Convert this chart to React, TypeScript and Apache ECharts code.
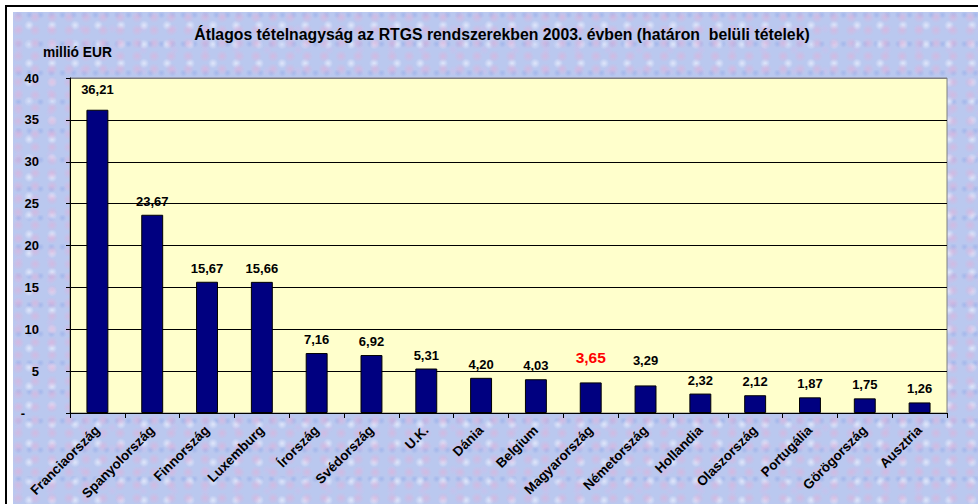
import React, { useEffect, useRef } from "react";
import * as echarts from "echarts";

const categories = [
  "Franciaország", "Spanyolország", "Finnország", "Luxemburg", "Írország", "Svédország",
  "U.K.", "Dánia", "Belgium", "Magyarország", "Németország", "Hollandia",
  "Olaszország", "Portugália", "Görögország", "Ausztria",
];
const values = [36.21, 23.67, 15.67, 15.66, 7.16, 6.92, 5.31, 4.2, 4.03, 3.65, 3.29, 2.32, 2.12, 1.87, 1.75, 1.26];
const highlightCategory = "Magyarország";
const titleText = "Átlagos tételnagyság az RTGS rendszerekben 2003. évben (határon  belüli tételek)";
const unitText = "millió EUR";

const FONT = "'Liberation Sans', Arial, sans-serif";
// labels that were moved up by hand in the original (style only)
const raisedLabelDistance: Record<string, number> = {
  "Franciaország": 14,
  "Magyarország": 17,
  "Németország": 18,
};

export default function App() {
  const ref = useRef<HTMLDivElement>(null);
  useEffect(() => {
    if (!ref.current) return;
    const chart = echarts.init(ref.current, null, { renderer: "svg" });
    const fmt = (v: number) => v.toFixed(2).replace(".", ",");
    chart.setOption({
      animation: false,
      backgroundColor: "transparent",
      textStyle: { fontFamily: FONT },
      graphic: [
        {
          type: "text",
          x: 502,
          y: 34,
          style: {
            text: titleText,
            fontFamily: FONT,
            fontWeight: "bold",
            fontSize: 15.8,
            fill: "#000",
            textAlign: "center",
            textVerticalAlign: "middle",
          },
        },
        {
          type: "text",
          x: 43,
          y: 52,
          style: {
            text: unitText,
            fontFamily: FONT,
            fontWeight: "bold",
            fontSize: 13.8,
            fill: "#000",
            textAlign: "left",
            textVerticalAlign: "middle",
          },
        },
      ],
      grid: {
        left: 70,
        right: 31,
        top: 78,
        bottom: 91,
        show: true,
        backgroundColor: "#FFFFCC",
        borderColor: "#808080",
        borderWidth: 1,
      },
      xAxis: {
        type: "category",
        data: categories,
        axisLine: { show: true, lineStyle: { color: "#000", width: 1 } },
        axisTick: { show: true, length: 5, lineStyle: { color: "#000" } },
        axisLabel: {
          rotate: 45,
          interval: 0,
          margin: 15,
          fontFamily: FONT,
          fontWeight: "bold",
          fontSize: 13.5,
          color: "#000",
        },
      },
      yAxis: {
        type: "value",
        min: 0,
        max: 40,
        interval: 5,
        axisLine: { show: true, lineStyle: { color: "#000", width: 1 } },
        axisTick: { show: true, length: 4, lineStyle: { color: "#000" } },
        splitLine: {
          show: true,
          lineStyle: {
            color: ["#000", "#000", "#000", "#000", "#000", "#000", "#000", "#000", "#808080"],
            width: 1,
          },
        },
        axisLabel: {
          margin: 31,
          fontFamily: FONT,
          fontWeight: "bold",
          fontSize: 13,
          color: "#000",
          formatter: (v: number) => (v === 0 ? "{d|-}" : String(v)),
          rich: { d: { fontWeight: "bold", fontSize: 13, padding: [0, 14, 0, 0], fontFamily: FONT } },
        },
      },
      series: [
        {
          type: "bar",
          barWidth: "40%",
          data: values.map((v, i) => {
            const label: any = {};
            if (categories[i] === highlightCategory) {
              label.color = "#FF0000";
              label.fontSize = 15.5;
            }
            if (raisedLabelDistance[categories[i]] !== undefined) label.distance = raisedLabelDistance[categories[i]];
            return Object.keys(label).length ? { value: v, label } : v;
          }),
          itemStyle: { color: "#000080", borderColor: "#000", borderWidth: 1 },
          label: {
            show: true,
            position: "top",
            distance: 7,
            fontFamily: FONT,
            fontWeight: "bold",
            fontSize: 13,
            color: "#000",
            formatter: (p: any) => fmt(p.value),
          },
        },
      ],
    });
    return () => chart.dispose();
  }, []);

  return (
    <div style={{ position: "fixed", left: 0, top: 0, width: 978, height: 504, background: "#fff", overflow: "hidden" }}>
      <div
        style={{
          position: "absolute",
          left: 5,
          top: 5,
          width: 1000,
          height: 600,
          borderLeft: "2px solid #000",
          borderTop: "2px solid #000",
        }}
      />
      <div
        style={{
          position: "absolute",
          left: 13,
          top: 12,
          width: 978 - 13,
          height: 504 - 12,
          backgroundColor: "#bac8ef",
          backgroundImage: [
            "radial-gradient(circle at 30% 40%, rgba(222,178,218,0.65) 0, rgba(222,178,218,0) 6px)",
            "radial-gradient(circle at 70% 70%, rgba(238,242,255,0.7) 0, rgba(238,242,255,0) 5px)",
            "radial-gradient(circle at 50% 10%, rgba(150,172,232,0.6) 0, rgba(150,172,232,0) 4px)",
            "radial-gradient(circle at 20% 80%, rgba(205,190,235,0.6) 0, rgba(205,190,235,0) 5px)",
          ].join(","),
          backgroundSize: "17px 13px, 23px 19px, 11px 29px, 31px 21px",
        }}
      />
      <div ref={ref} style={{ position: "absolute", left: 0, top: 0, width: 978, height: 504 }} />
    </div>
  );
}
